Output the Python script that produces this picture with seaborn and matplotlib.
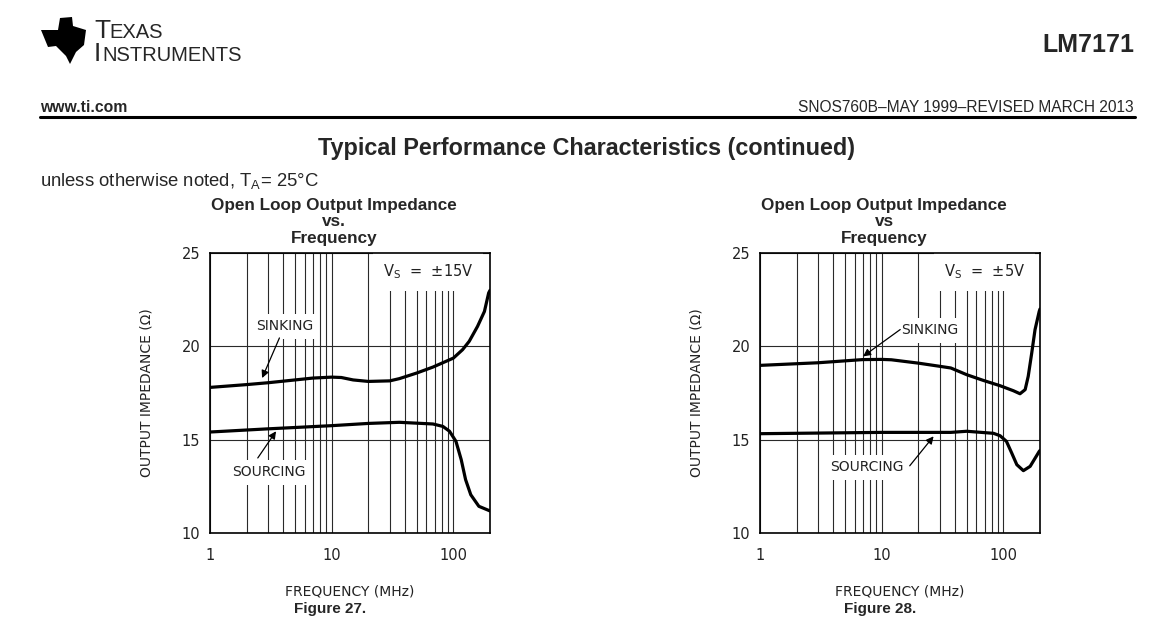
import numpy as np
import pandas as pd
import seaborn as sns
import matplotlib.pyplot as plt
from matplotlib.patches import Polygon

# ---------------------------------------------------------------------------------- #
# data (frequency in MHz, impedance in ohm)

f27_sink = [1, 2, 3, 5, 7, 10, 12, 15, 20, 30, 36, 50, 68, 100, 119, 135, 158, 180, 195, 200]
z27_sink = [17.8, 17.95, 18.05, 18.2, 18.3, 18.35, 18.33, 18.2, 18.12, 18.15, 18.27, 18.57, 18.89,
            19.37, 19.82, 20.27, 21.07, 21.87, 22.86, 23.0]

f27_src = [1, 3, 10, 20, 36, 68, 82, 93, 105, 116, 126, 139, 162, 197, 200]
z27_src = [15.41, 15.58, 15.75, 15.87, 15.93, 15.84, 15.71, 15.45, 14.91, 13.93, 12.86, 12.05,
           11.43, 11.2, 11.18]

f28_sink = [1, 3, 7, 10, 12, 20, 30, 37, 50, 68, 94, 121, 137, 151, 160, 171, 182, 197, 200]
z28_sink = [18.98, 19.12, 19.29, 19.3, 19.28, 19.1, 18.93, 18.84, 18.48, 18.18, 17.89, 17.62,
            17.46, 17.68, 18.39, 19.64, 20.89, 21.87, 22.0]

f28_src = [1, 10, 37, 50, 83, 94, 106, 117, 129, 146, 166, 197, 200]
z28_src = [15.32, 15.39, 15.39, 15.45, 15.34, 15.21, 14.91, 14.29, 13.66, 13.34, 13.57, 14.37, 14.42]

y_ticks = [10, 15, 20, 25]
x_ticks = [1, 10, 100]
x_ticklabels = ["1", "10", "100"]

sns.set_style("white")
plt.rcParams['font.family'] = ['DejaVu Sans']

fig = plt.figure(figsize=(11.56, 6.33), dpi=100)
W, H = 1156, 633


def fx(px):
    return px / W


def fy(py):
    return 1 - py / H


# ---------------------------------------------------------------------------------- #
# page header

hdr = ['Liberation Sans', 'DejaVu Sans']
logo = Polygon([[fx(41), fy(30)], [fx(58), fy(30)], [fx(60), fy(18)], [fx(72), fy(17)],
                [fx(73), fy(26)], [fx(86), fy(30)], [fx(84), fy(45)], [fx(76), fy(52)],
                [fx(70), fy(64)], [fx(66), fy(56)], [fx(56), fy(46)], [fx(48), fy(47)]],
               closed=True, transform=fig.transFigure, facecolor='black', edgecolor='none')
fig.patches.append(logo)
fig.text(fx(94), fy(38), "T", fontsize=19, family=hdr, va='baseline')
fig.text(fx(109), fy(38), "EXAS", fontsize=14.5, family=hdr, va='baseline')
fig.text(fx(94), fy(61), "I", fontsize=19, family=hdr, va='baseline')
fig.text(fx(102), fy(61), "NSTRUMENTS", fontsize=14.5, family=hdr, va='baseline')
fig.text(fx(1134), fy(45), "LM7171", fontsize=18, weight='bold', family=hdr,
         ha='right', va='center')
fig.text(fx(40), fy(107), "www.ti.com", fontsize=11.3, weight='bold', family=hdr, va='center')
fig.text(fx(1134), fy(107), "SNOS760B\u2013MAY 1999\u2013REVISED MARCH 2013", fontsize=11.2,
         family=hdr, ha='right', va='center')
fig.add_artist(plt.Line2D([fx(40), fx(1135)], [fy(117), fy(117)], color='black', lw=2.2,
                          transform=fig.transFigure))
fig.text(fx(587), fy(149), "Typical Performance Characteristics (continued)", fontsize=16.8,
         weight='bold', family=hdr, ha='center', va='center')
fig.text(fx(40), fy(181), r"unless otherwise noted, T$_\mathregular{A}$= 25°C", fontsize=13.3,
         family=hdr, va='center')


# ---------------------------------------------------------------------------------- #
# one chart panel

def panel(left_px, f_sink, z_sink, f_src, z_src, title, vs, fig_no, sink_lbl, sink_arr,
          src_lbl, src_arr, vs_pos):
    ax = fig.add_axes([fx(left_px), fy(533), 280 / W, 280 / H])
    d1 = pd.DataFrame({"f": f_sink, "z": z_sink})
    d2 = pd.DataFrame({"f": f_src, "z": z_src})
    sns.lineplot(data=d1, x="f", y="z", ax=ax, color='black', lw=2.3, zorder=4)
    sns.lineplot(data=d2, x="f", y="z", ax=ax, color='black', lw=2.3, zorder=4)
    ax.set_xscale('log')
    ax.set_xlim(1, 200)
    ax.set_ylim(10, 25)
    ax.set_yticks(y_ticks)
    ax.set_xticks(x_ticks)
    ax.set_xticklabels(x_ticklabels)
    ax.minorticks_off()
    ax.set_xticks([2, 3, 4, 5, 6, 7, 8, 9, 20, 30, 40, 50, 60, 70, 80, 90], minor=True)
    ax.tick_params(which='both', length=0, labelsize=10.5, colors='#222222')
    ax.tick_params(axis='x', pad=11)
    ax.tick_params(axis='y', pad=7)
    ax.grid(which='both', axis='x', color='#2a2a2a', lw=0.8)
    ax.grid(which='major', axis='y', color='#2a2a2a', lw=0.8)
    for s in ax.spines.values():
        s.set_color('black')
        s.set_linewidth(1.2)
        s.set_zorder(8)
    ax.set_xlabel("FREQUENCY (MHz)", fontsize=10, labelpad=15, color='#222222')
    ax.set_ylabel("OUTPUT IMPEDANCE (\u03a9)", fontsize=10, labelpad=20, color='#222222')
    ax.text(0.443, 1.026, title, transform=ax.transAxes, fontsize=12.3, weight='bold',
            family=hdr, linespacing=1.12, ha='center', va='bottom')
    box = dict(facecolor='white', edgecolor='none', pad=4)
    ax.text(vs_pos[0], vs_pos[1], r"V$_\mathregular{S}$  =  " + vs, fontsize=10.5, ha='center',
            va='center', bbox=dict(facecolor='white', edgecolor='none', pad=7), zorder=5,
            color='#222222')
    ax.text(sink_lbl[0], sink_lbl[1], "SINKING", fontsize=10, ha='center', va='center',
            bbox=box, zorder=5, color='#222222')
    ax.text(src_lbl[0], src_lbl[1], "SOURCING", fontsize=10, ha='center', va='center',
            bbox=box, zorder=5, color='#222222')
    for a in (sink_arr, src_arr):
        ax.annotate("", xy=a[1], xytext=a[0], zorder=6,
                    arrowprops=dict(arrowstyle='-|>', color='black', lw=0.9,
                                    mutation_scale=11, shrinkA=0, shrinkB=0))
    fig.text(fx(left_px + 120), fy(609), fig_no, fontsize=11, weight='bold', family=hdr,
             ha='center', va='center')
    return ax


panel(210, f27_sink, z27_sink, f27_src, z27_src,
      "Open Loop Output Impedance\nvs.\nFrequency", "±15V", "Figure 27.",
      (4.1, 21.07), ((3.72, 20.45), (2.68, 18.3)),
      (3.07, 13.25), ((2.47, 14.02), (3.49, 15.45)), (62, 24.0))

panel(760, f28_sink, z28_sink, f28_src, z28_src,
      "Open Loop Output Impedance\nvs\nFrequency", "±5V", "Figure 28.",
      (24.7, 20.86), ((14.2, 20.9), (7.03, 19.46)),
      (7.5, 13.52), ((17.0, 13.6), (26.7, 15.18)), (70, 24.0))

plt.savefig("out.png", dpi=100)
